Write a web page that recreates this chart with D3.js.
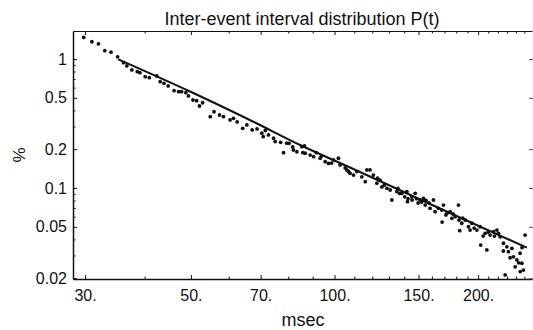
<!DOCTYPE html>
<html><head><meta charset="utf-8">
<script src="https://cdn.jsdelivr.net/npm/d3@7"></script>
<style>
body{margin:0;background:#fff}
svg{display:block}
text{font-family:"Liberation Sans",Arial,Helvetica,sans-serif;fill:#111}
</style>
</head><body>
<svg id="chart" width="533" height="330"></svg>
<script>
// ---- data ----
const intervalMs = [
  29.8,31.0,32.0,33.0,34.0,35.1,36.1,36.7,37.6,38.6,39.1,40.1,40.9,42.4,43.1,43.9,44.8,46.1,47.1,47.8,
  48.8,49.4,50.5,51.4,52.1,52.9,54.9,55.9,57.4,58.5,60.4,61.4,62.5,64.2,65.5,67.2,68.8,
  70.4,70.9,71.6,72.7,74.5,75.1,77.1,78.2,79.4,80.3,81.7,82.0,83.4,85.4,85.8,86.5,86.8,88.9,90.4,91.6,
  93.3,93.9,95.6,97.1,98.6,99.5,101.9,102.7,105.3,106.1,107.0,107.8,109.6,111.4,114.1,116.0,116.9,118.7,
  120.6,122.7,123.1,124.6,125.7,127.2,128.8,130.8,131.9,135.1,135.8,136.9,138.4,140.3,141.8,142.2,142.6,
  145.2,145.4,147.6,148.6,149.7,151.1,152.3,153.6,154.9,155.5,157.8,158.6,161.2,162.5,165.1,167.8,168.1,
  169.2,171.2,172.0,174.7,176.2,177.3,179.0,181.9,182.4,183.0,184.8,185.7,187.9,190.9,192.4,194.0,196.2,
  198.8,201.9,202.5,204.9,206.9,208.6,209.9,211.9,215.4,216.4,219.0,220.7,222.4,225.9,226.0,227.9,229.7,
  231.5,233.4,235.4,237.2,239.2,241.1,243.2,244.9,245.1,247.0,247.2,248.9,250.9
];
const percent = [
  1.47,1.36,1.31,1.16,1.13,1.04,0.936,0.883,0.822,0.797,0.783,0.729,0.716,0.738,0.667,0.648,0.618,0.568,0.558,0.558,
  0.548,0.517,0.481,0.475,0.432,0.458,0.357,0.390,0.368,0.357,0.337,0.347,0.325,0.290,0.308,0.282,0.287,
  0.266,0.250,0.279,0.258,0.243,0.229,0.226,0.188,0.2225,0.222,0.208,0.197,0.191,0.209,0.188,0.212,0.186,0.180,0.175,0.188,
  0.170,0.177,0.160,0.155,0.156,0.165,0.170,0.151,0.143,0.138,0.1345,0.130,0.126,0.134,0.122,0.112,0.138,0.138,
  0.126,0.109,0.119,0.115,0.102,0.1055,0.0994,0.0965,0.0807,0.0936,0.0993,0.0907,0.0910,0.0854,0.0936,0.0783,0.0826,
  0.0856,0.0807,0.0910,0.0826,0.0765,0.0807,0.0779,0.0831,0.0738,0.0803,0.0765,0.0696,0.0807,0.0655,0.0696,0.0675,0.0544,
  0.0738,0.0618,0.0636,0.0655,0.0582,0.0629,0.0600,0.0738,0.0565,0.0467,0.0533,0.0585,0.0565,0.0501,0.0472,0.0533,0.0489,
  0.0472,0.0501,0.0361,0.0424,0.0445,0.0331,0.0455,0.0432,0.0458,0.0424,0.0472,0.0445,0.0419,0.0325,0.0373,0.0212,0.0350,
  0.0321,0.0288,0.0340,0.0293,0.0245,0.0277,0.0263,0.0312,0.0225,0.0261,0.0345,0.0231,0.0432
];
const fitMs      = [35.2, 49.8, 68.1, 84.7, 107.8, 158.6, 253.0];
const fitPercent = [0.995, 0.560, 0.322, 0.2154, 0.1442, 0.0752, 0.0345];

const xTickValues = [30, 50, 70, 100, 150, 200];
const xTickLabels = ["30.", "50.", "70.", "100.", "150.", "200."];
const xMinorTicks = [40, 60, 80, 90, 110, 120, 130, 140, 160, 170, 180, 190, 210, 220, 230, 240, 250];
const yTickValues = [0.02, 0.05, 0.1, 0.2, 0.5, 1];
const yTickLabels = ["0.02", "0.05", "0.1", "0.2", "0.5", "1"];
const yMinorTicks = [0.03, 0.04, 0.06, 0.07, 0.08, 0.09, 0.3, 0.4, 0.6, 0.7, 0.8, 0.9];
const titleText = "Inter-event interval distribution P(t)";
const xLabel = "msec";
const yLabel = "%";

// ---- layout ----
const plotLeft = 73, plotRight = 532, plotTop = 31, plotBottom = 279;
const x = d3.scaleLog().domain([28.3, 259.4]).range([plotLeft, plotRight]);
const y = d3.scaleLog().domain([0.01971, 1.648]).range([plotBottom, plotTop]);

const svg = d3.select("#chart");

function styleAxis(g, w) {
  g.selectAll(".domain").attr("stroke", "#111").attr("stroke-width", w);
  g.selectAll(".tick line").attr("stroke", "#111").attr("stroke-width", 1);
  g.selectAll(".tick text").style("font-size", "16px").attr("fill", "#111")
    .style("font-family", '"Liberation Sans",Arial,sans-serif');
}

// bottom axis
const gB = svg.append("g").attr("transform", `translate(0,${plotBottom})`)
  .call(d3.axisBottom(x).tickValues(xTickValues).tickFormat((d, i) => xTickLabels[i])
    .tickSizeInner(-4).tickSizeOuter(0).tickPadding(11));
styleAxis(gB, 1.5);
svg.append("g").attr("transform", `translate(0,${plotBottom})`)
  .call(d3.axisBottom(x).tickValues(xMinorTicks).tickFormat("").tickSizeInner(-2.5).tickSizeOuter(0))
  .call(g => { g.select(".domain").remove(); g.selectAll("line").attr("stroke", "#111"); });

// top frame
const gT = svg.append("g").attr("transform", `translate(0,${plotTop})`)
  .call(d3.axisTop(x).tickValues(xTickValues).tickFormat("").tickSizeInner(-4).tickSizeOuter(0));
styleAxis(gT, 1.1);
svg.append("g").attr("transform", `translate(0,${plotTop})`)
  .call(d3.axisTop(x).tickValues(xMinorTicks).tickFormat("").tickSizeInner(-2.5).tickSizeOuter(0))
  .call(g => { g.select(".domain").remove(); g.selectAll("line").attr("stroke", "#111"); });

// left axis
const gL = svg.append("g").attr("transform", `translate(${plotLeft},0)`)
  .call(d3.axisLeft(y).tickValues(yTickValues).tickFormat((d, i) => yTickLabels[i])
    .tickSizeInner(-4).tickSizeOuter(0).tickPadding(6));
styleAxis(gL, 1.5);
svg.append("g").attr("transform", `translate(${plotLeft},0)`)
  .call(d3.axisLeft(y).tickValues(yMinorTicks).tickFormat("").tickSizeInner(-2.5).tickSizeOuter(0))
  .call(g => { g.select(".domain").remove(); g.selectAll("line").attr("stroke", "#111"); });

// right ticks (frame edge falls at the picture border)
svg.append("g").attr("transform", `translate(${plotRight + 1},0)`)
  .call(d3.axisRight(y).tickValues(yTickValues).tickFormat("").tickSizeInner(-4).tickSizeOuter(0))
  .call(g => { g.select(".domain").remove(); g.selectAll("line").attr("stroke", "#555"); });

// fit curve
const fit = fitMs.map((t, i) => [t, fitPercent[i]]);
svg.append("path").datum(fit)
  .attr("fill", "none").attr("stroke", "#111").attr("stroke-width", 2)
  .attr("d", d3.line().x(d => x(d[0])).y(d => y(d[1])).curve(d3.curveMonotoneX));

// data points
const pts = intervalMs.map((t, i) => [t, percent[i]]);
svg.append("g").selectAll("circle").data(pts).join("circle")
  .attr("cx", d => x(d[0])).attr("cy", d => y(d[1])).attr("r", 1.9).attr("fill", "#111");

// texts
svg.append("text").attr("x", 302).attr("y", 25).attr("text-anchor", "middle")
  .style("font-size", "18px").text(titleText);
svg.append("text").attr("x", 303).attr("y", 326).attr("text-anchor", "middle")
  .style("font-size", "18px").text(xLabel);
svg.append("text").attr("transform", "translate(25,155) rotate(-90)").attr("text-anchor", "middle")
  .style("font-size", "17px").text(yLabel);
</script>
</body></html>
